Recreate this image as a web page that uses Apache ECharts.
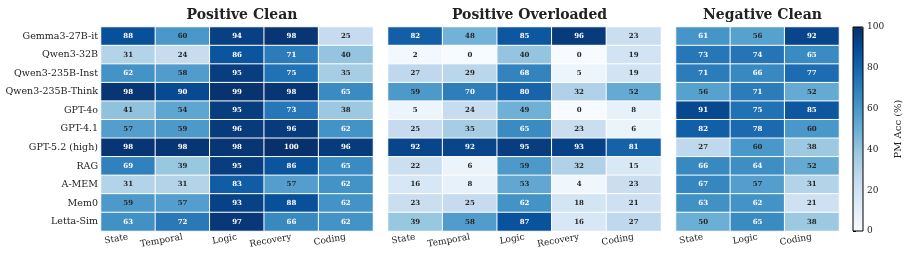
<!DOCTYPE html>
<html>
<head>
<meta charset="utf-8">
<script src="https://cdn.jsdelivr.net/npm/echarts@6/dist/echarts.min.js"></script>
<style>
  html, body { margin: 0; padding: 0; background: #fff; }
  #main { width: 909px; height: 256px; }
</style>
</head>
<body>
<div id="main"></div>
<script>
// models (rows, top to bottom)
var models = ['Gemma3-27B-it', 'Qwen3-32B', 'Qwen3-235B-Inst', 'Qwen3-235B-Think', 'GPT-4o',
  'GPT-4.1', 'GPT-5.2 (high)', 'RAG', 'A-MEM', 'Mem0', 'Letta-Sim'];

var posCats = ['State', 'Temporal', 'Logic', 'Recovery', 'Coding'];
var negCats = ['State', 'Logic', 'Coding'];

// Positive Clean
var posClean = [
  [88, 60, 94, 98, 25],
  [31, 24, 86, 71, 40],
  [62, 58, 95, 75, 35],
  [98, 90, 99, 98, 65],
  [41, 54, 95, 73, 38],
  [57, 59, 96, 96, 62],
  [98, 98, 98, 100, 96],
  [69, 39, 95, 86, 65],
  [31, 31, 83, 57, 62],
  [59, 57, 93, 88, 62],
  [63, 72, 97, 66, 62]
];

// Positive Overloaded
var posOver = [
  [82, 48, 85, 96, 23],
  [2, 0, 40, 0, 19],
  [27, 29, 68, 5, 19],
  [59, 70, 80, 32, 52],
  [5, 24, 49, 0, 8],
  [25, 35, 65, 23, 6],
  [92, 92, 95, 93, 81],
  [22, 6, 59, 32, 15],
  [16, 8, 53, 4, 23],
  [23, 25, 62, 18, 21],
  [39, 58, 87, 16, 27]
];

// Negative Clean
var negClean = [
  [61, 56, 92],
  [73, 74, 65],
  [71, 66, 77],
  [56, 71, 52],
  [91, 75, 85],
  [82, 78, 60],
  [27, 60, 38],
  [66, 64, 52],
  [67, 57, 31],
  [63, 62, 21],
  [50, 65, 38]
];

var titles = ['Positive Clean', 'Positive Overloaded', 'Negative Clean'];
var cbTicks = [0, 20, 40, 60, 80, 100];

var blues = ['#f7fbff', '#deebf7', '#c6dbef', '#9ecae1', '#6baed6', '#4292c6', '#2171b5', '#08519c', '#08306b'];
var serif = '"DejaVu Serif", serif';

function toCells(mat) {
  var out = [];
  for (var r = 0; r < mat.length; r++) {
    for (var c = 0; c < mat[r].length; c++) {
      var v = mat[r][c];
      out.push({ value: [c, r, v], label: { color: v > 60 ? '#ffffff' : '#262626' } });
    }
  }
  return out;
}

var panels = [
  { left: 101, width: 272, cats: posCats, data: posClean },
  { left: 388, width: 273, cats: posCats, data: posOver },
  { left: 676, width: 163, cats: negCats, data: negClean }
];

var grids = [], xAxes = [], yAxes = [], series = [], titleOpts = [];
for (var i = 0; i < panels.length; i++) {
  var p = panels[i];
  grids.push({ left: p.left, top: 27, width: p.width, height: 204 });
  xAxes.push({
    type: 'category', gridIndex: i, data: p.cats,
    axisLine: { show: false }, axisTick: { show: false },
    axisLabel: { rotate: 10, fontFamily: serif, fontSize: 9, color: '#222', margin: 6, interval: 0 },
    splitArea: { show: false }
  });
  yAxes.push({
    type: 'category', gridIndex: i, data: models, inverse: true,
    axisLine: { show: false }, axisTick: { show: false },
    axisLabel: { show: i === 0, fontFamily: serif, fontSize: 9.5, color: '#222', margin: 3 }
  });
  series.push({
    type: 'heatmap', xAxisIndex: i, yAxisIndex: i,
    data: toCells(p.data),
    itemStyle: { borderColor: '#ffffff', borderWidth: 1 },
    label: { show: true, fontFamily: serif, fontSize: 7, fontWeight: 'bold',
      formatter: function (d) { return d.value[2]; } },
    emphasis: { disabled: true }
  });
  titleOpts.push({
    text: titles[i], left: p.left + p.width / 2, top: 3, textAlign: 'center',
    textStyle: { fontFamily: serif, fontSize: 14, fontWeight: 'bold', color: '#222' }
  });
}

// colorbar axis
grids.push({ left: 853, top: 27, width: 10, height: 204, show: true, borderColor: '#000', borderWidth: 1, backgroundColor: 'transparent', z: 10 });
xAxes.push({ type: 'value', gridIndex: 3, show: false });
yAxes.push({
  type: 'value', gridIndex: 3, position: 'right', min: cbTicks[0], max: cbTicks[cbTicks.length - 1], interval: 20,
  axisLine: { show: false }, splitLine: { show: false },
  axisTick: { show: true, length: 3, lineStyle: { color: '#000' } },
  axisLabel: { fontFamily: serif, fontSize: 9, color: '#222', margin: 4 },
  name: 'PM Acc (%)', nameLocation: 'middle', nameRotate: 90, nameGap: 30,
  nameTextStyle: { fontFamily: serif, fontSize: 10, color: '#222' }
});

var chart = echarts.init(document.getElementById('main'));
chart.setOption({
  animation: false,
  backgroundColor: '#fff',
  title: titleOpts,
  grid: grids,
  xAxis: xAxes,
  yAxis: yAxes,
  visualMap: {
    type: 'continuous', min: 0, max: 100, seriesIndex: [0, 1, 2],
    orient: 'vertical', left: 853, top: 27, itemWidth: 10, itemHeight: 204,
    padding: 0, calculable: false, text: null, showLabel: false,
    inRange: { color: blues }, hoverLink: false
  },
  series: series
});
</script>
</body>
</html>
